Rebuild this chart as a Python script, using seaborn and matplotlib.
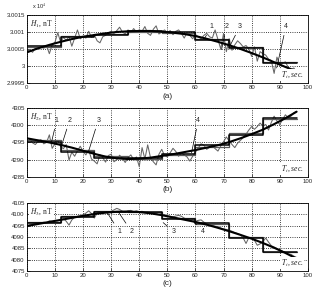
import matplotlib

matplotlib.use('Agg')
import matplotlib.pyplot as plt
from matplotlib.ticker import FuncFormatter, MultipleLocator
import seaborn as sns
import pandas as pd

sns.set_theme(style='ticks')
plt.rcParams['font.family'] = ['Liberation Sans', 'DejaVu Sans']
plt.rcParams['mathtext.fontset'] = 'stix'

# time axis, sec
t_raw = list(range(0, 97))
t_fit = list(range(0, 97, 4))
t_step = list(range(0, 97, 12))

# (a) H1, nT
h1_raw = [30004.2, 30004.8, 30004.0, 30005.2, 30005.0, 30005.6, 30005.2, 30006.0, 30003.6, 30006.2,
          30007.0, 30009.8, 30007.0, 30008.4, 30007.6, 30008.6, 30005.8, 30008.2, 30010.6, 30008.0,
          30008.6, 30008.2, 30010.2, 30008.4, 30009.2, 30007.4, 30006.8, 30008.6, 30009.0, 30009.8,
          30010.2, 30009.6, 30010.4, 30011.4, 30010.0, 30009.4, 30010.6, 30009.8, 30011.0, 30010.0,
          30010.6, 30010.2, 30011.6, 30009.6, 30009.0, 30010.8, 30011.8, 30009.4, 30010.0, 30010.6,
          30009.8, 30010.4, 30009.2, 30010.2, 30010.6, 30009.6, 30008.2, 30009.8, 30009.0, 30008.0,
          30009.2, 30008.6, 30008.0, 30009.0, 30009.6, 30008.6, 30008.2, 30010.6, 30007.8, 30005.0,
          30009.6, 30004.2, 30008.0, 30004.6, 30006.2, 30007.4, 30006.6, 30005.6, 30006.0, 30005.0,
          30002.8, 30005.6, 30001.4, 30004.2, 30003.6, 30003.2, 30002.0, 30001.6, 29997.8, 30002.6,
          30000.2, 30000.8, 30001.2, 29999.6, 29998.8, 29999.4, 29998.2]
h1_fit = [30004.0, 30005.2, 30006.2, 30007.1, 30007.9, 30008.6, 30009.1, 30009.6, 30010.0, 30010.2,
          30010.3, 30010.3, 30010.1, 30009.8, 30009.4, 30008.8, 30008.0, 30007.1, 30006.1, 30005.0,
          30003.8, 30002.5, 30001.1, 29999.7, 29998.4]
h1_step = [30006.0, 30008.4, 30009.0, 30010.3, 30010.0, 30007.7, 30005.2, 30000.8]
h1_step2 = [30005.6, 30008.8, 30009.3, 30010.0, 30009.6, 30008.0, 30005.6, 30001.2]

# (b) H2, nT
h2_raw = [4295.2, 4295.8, 4294.9, 4294.4, 4295.3, 4295.8, 4294.6, 4295.0, 4297.2, 4293.3,
          4294.6, 4295.6, 4293.8, 4293.2, 4294.4, 4289.9, 4292.2, 4291.0, 4292.6, 4293.9,
          4292.4, 4291.4, 4292.8, 4290.2, 4289.6, 4288.8, 4291.4, 4290.6, 4289.3, 4291.2,
          4291.6, 4289.4, 4290.0, 4291.3, 4290.4, 4289.2, 4290.6, 4291.4, 4290.0, 4290.8,
          4288.0, 4293.5, 4290.2, 4294.3, 4290.6, 4289.4, 4288.5, 4291.6, 4293.0, 4291.2,
          4290.8, 4292.0, 4293.3, 4292.4, 4291.0, 4292.0, 4291.4, 4290.8, 4289.6, 4291.0,
          4292.2, 4293.4, 4294.6, 4294.2, 4293.0, 4293.6, 4294.2, 4293.2, 4292.5, 4294.0,
          4295.2, 4296.6, 4295.4, 4294.4, 4293.5, 4294.8, 4295.6, 4296.4, 4297.4, 4298.6,
          4299.6, 4298.8, 4299.6, 4300.6, 4299.8, 4300.2, 4298.6, 4300.8, 4302.6, 4301.2,
          4300.2, 4301.6, 4303.0, 4302.2, 4302.6, 4303.6, 4304.0]
h2_fit = [4296.2, 4295.6, 4295.0, 4294.3, 4293.5, 4292.6, 4291.7, 4290.9, 4290.4, 4290.2,
          4290.3, 4290.6, 4291.1, 4291.6, 4292.2, 4292.8, 4293.5, 4294.2, 4295.1, 4296.2,
          4297.4, 4298.7, 4300.3, 4302.0, 4303.9]
h2_step = [4295.2, 4292.2, 4290.6, 4290.4, 4291.7, 4294.3, 4297.2, 4302.0]
h2_step2 = [4295.6, 4292.8, 4291.0, 4290.2, 4291.4, 4293.8, 4297.6, 4301.8]

# (c) H3, nT
h3_raw = [4095.0, 4095.4, 4095.7, 4096.0, 4095.9, 4096.3, 4096.6, 4096.4, 4097.2, 4097.0,
          4097.4, 4097.2, 4097.8, 4098.2, 4097.0, 4095.3, 4097.6, 4098.8, 4099.2, 4099.4,
          4099.8, 4100.6, 4101.6, 4100.4, 4098.4, 4100.6, 4101.0, 4100.8, 4101.2, 4101.0,
          4101.4, 4102.0, 4102.7, 4102.2, 4101.4, 4101.0, 4101.6, 4101.8, 4101.2, 4101.6,
          4101.2, 4101.4, 4100.8, 4101.0, 4100.6, 4100.9, 4100.4, 4100.8, 4100.2, 4099.8,
          4099.4, 4099.2, 4099.0, 4099.3, 4099.6, 4099.2, 4098.4, 4097.8, 4097.4, 4097.6,
          4097.0, 4097.4, 4097.6, 4096.6, 4095.8, 4095.6, 4095.2, 4094.8, 4094.6, 4094.0,
          4093.6, 4093.4, 4093.0, 4092.6, 4092.0, 4091.6, 4091.0, 4089.6, 4087.2, 4089.8,
          4089.6, 4088.6, 4086.4, 4087.0, 4088.0, 4089.6, 4087.8, 4086.2, 4085.6, 4085.0,
          4084.4, 4083.8, 4083.2, 4082.6, 4082.4, 4081.6, 4081.0]
h3_fit = [4094.9, 4095.8, 4096.7, 4097.6, 4098.5, 4099.4, 4100.2, 4100.8, 4101.2, 4101.3,
          4101.1, 4100.5, 4099.7, 4098.7, 4097.7, 4096.7, 4095.5, 4094.1, 4092.6, 4091.0,
          4089.3, 4087.4, 4085.3, 4083.0, 4080.5]
h3_step = [4096.3, 4099.0, 4101.2, 4101.3, 4098.2, 4096.1, 4089.5, 4083.6]
h3_step2 = [4096.8, 4099.4, 4101.6, 4101.0, 4098.6, 4095.6, 4090.0, 4083.4]

# curve numbers: (label, tip t, tip H, text t, text H)
marks_a = [('1', 63.3, 30008.2, 65.7, 30011.6), ('2', 69.3, 30004.8, 71.0, 30011.6),
           ('3', 72.2, 30005.8, 75.8, 30011.6), ('4', 88.9, 29999.4, 92.2, 30011.6)]
marks_b = [('1', 8.8, 4295.2, 10.6, 4301.4), ('2', 12.3, 4294.0, 15.2, 4301.4),
           ('3', 21.8, 4292.0, 25.4, 4301.4), ('4', 58.6, 4292.0, 61.0, 4301.4)]
marks_c = [('1', 28.4, 4101.2, 32.9, 4092.4), ('2', 32.5, 4101.2, 37.3, 4092.4),
           ('3', 48.5, 4096.4, 52.3, 4092.4), ('4', 59.2, 4097.0, 62.7, 4092.4)]


def draw_panel(ax, raw, fit, step, step2, ylim, ystep, name, marks):
    sns.lineplot(x=t_raw, y=raw, ax=ax, color='0.4', lw=0.75, estimator=None)
    sns.lineplot(x=t_step, y=step2 + [step2[-1]], ax=ax, color='0.35', lw=0.9,
                 drawstyle='steps-post', estimator=None)
    sns.lineplot(x=t_step, y=step + [step[-1]], ax=ax, color='black', lw=1.1,
                 drawstyle='steps-post', estimator=None)
    sns.lineplot(x=t_fit, y=fit, ax=ax, color='black', lw=1.5, estimator=None)
    ax.set_xlim(0, 100)
    ax.set_ylim(*ylim)
    ax.xaxis.set_major_locator(MultipleLocator(10))
    ax.yaxis.set_major_locator(MultipleLocator(ystep))
    ax.grid(True, color='black', ls=':', lw=0.6)
    ax.tick_params(direction='in', length=2, width=0.5, labelsize=4.3, pad=1.5)
    for s in ax.spines.values():
        s.set_linewidth(0.6)
        s.set_color('black')
    ax.set_xlabel('')
    ax.set_ylabel('')
    ax.text(0.01, 0.95, name, transform=ax.transAxes, fontsize=5.5, va='top', ha='left',
            family='Liberation Serif', bbox=dict(fc='white', ec='none', pad=0.4))
    ax.text(0.985, 0.04, r'$T_i$, sec.', transform=ax.transAxes, fontsize=5.5, va='bottom',
            ha='right', family='Liberation Serif', style='italic',
            bbox=dict(fc='white', ec='none', pad=0.6))
    for lab, xt, yt, xx, yy in marks:
        ax.annotate(lab, xy=(xt, yt), xytext=(xx, yy), fontsize=5, ha='center',
                    va='center', arrowprops=dict(arrowstyle='-', color='black', lw=0.5,
                                                 shrinkA=1.5, shrinkB=0))


fig = plt.figure(figsize=(3.2, 2.94), dpi=100)
ax_a = fig.add_axes([0.084, 0.718, 0.878, 0.231])
ax_b = fig.add_axes([0.084, 0.398, 0.878, 0.235])
ax_c = fig.add_axes([0.084, 0.078, 0.878, 0.231])

draw_panel(ax_a, h1_raw, h1_fit, h1_step, h1_step2, (29995, 30015), 5, r'$H_1$, nT', marks_a)
ax_a.yaxis.set_major_formatter(FuncFormatter(lambda v, p: f'{v / 1e4:g}'))
fig.text(0.10, 0.962, r'x 10$^4$', fontsize=4, ha='left', va='bottom')
draw_panel(ax_b, h2_raw, h2_fit, h2_step, h2_step2, (4285, 4305), 5, r'$H_2$, nT', marks_b)
draw_panel(ax_c, h3_raw, h3_fit, h3_step, h3_step2, (4075, 4105), 5, r'$H_3$, nT', marks_c)

for lab, y in [('(a)', 0.673), ('(b)', 0.354), ('(c)', 0.037)]:
    fig.text(0.523, y, lab, fontsize=6, ha='center', va='center')

fig.savefig('out.png', dpi=100)
plt.close()
